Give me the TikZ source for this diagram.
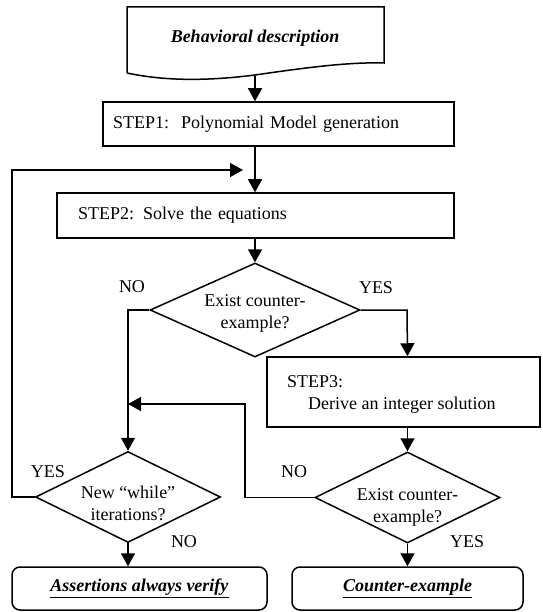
\documentclass[tikz,border=0pt]{standalone}
\usepackage{fontspec}
\setmainfont{Liberation Serif}
\usetikzlibrary{arrows.meta,shapes.geometric,calc}
\begin{document}
\begin{tikzpicture}[x=1pt,y=-1pt,
  every node/.style={font=\fontsize{18}{22}\selectfont},
  box/.style={draw,line width=1.5pt,rectangle,inner sep=0pt},
  dia/.style={draw,line width=1.5pt,diamond,inner sep=0pt},
  term/.style={draw,line width=1.5pt,rectangle,rounded corners=8pt,inner sep=0pt},
  conn/.style={line width=1.5pt},
  arr/.style={line width=1.5pt,-{Triangle[width=14pt,length=13pt]}},
  lbl/.style={inner sep=0pt}]
\useasboundingbox (0,0) rectangle (542,612);
% document shape
\draw[line width=1.5pt] (127,73) -- (127,7) -- (384,7) -- (384,63)
  .. controls (350,62) and (310,67) .. (255,75)
  .. controls (200,82) and (160,80) .. (127,73);
\node (doc) at (255,38) {\textbf{\textit{Behavioral description}}};
\coordinate (docb) at (255,76);
% step1
\node[box,minimum width=351pt,minimum height=44pt,text width=331pt,align=left,inner xsep=10pt] (s1) at (278.5,124) {STEP1:\ \ Polynomial Model generation};
% step2
\node[box,minimum width=397pt,minimum height=45pt,text width=355pt,align=left,inner xsep=21pt] (s2) at (255.5,215.5) {STEP2: Solve the equations};
% diamond 1
\node[dia,minimum width=210pt,minimum height=94pt] (d1) at (255,310) {};
\node[align=center,lbl] (d1t) at (255,313) {Exist counter-\\example?};
% step3
\node[box,minimum width=273pt,minimum height=70pt] (s3) at (403.5,392) {};
\node[anchor=west,lbl] (s3a) at (287,382) {STEP3:};
\node[anchor=west,lbl] (s3b) at (308,405) {Derive an integer solution};
% diamond 2
\node[dia,minimum width=185pt,minimum height=91pt] (d2) at (128,497) {};
\node[align=center,lbl] (d2t) at (128,503) {New “while”\\iterations?};
% diamond 3
\node[dia,minimum width=185pt,minimum height=91pt] (d3) at (407.5,497.5) {};
\node[align=center,lbl] (d3t) at (407.5,507) {Exist counter-\\example?};
% terminals
\node[term,minimum width=255pt,minimum height=43pt] (t1) at (139.5,588.5) {\underline{\textbf{\textit{Assertions always verify}}}};
\node[term,minimum width=231pt,minimum height=43pt] (t2) at (407.5,588.5) {\underline{\textbf{\textit{Counter-example}}}};
% labels
\node[lbl] (l1) at (132,287) {NO};
\node[lbl] (l2) at (376,288) {YES};
\node[lbl] (l3) at (48,472) {YES};
\node[lbl] (l4) at (184,542) {NO};
\node[lbl] (l5) at (294,472) {NO};
\node[lbl] (l6) at (467,542) {YES};
% junction coordinates
\coordinate (fb) at (243,170);
\coordinate (j2) at (128,404);
% connectors
\draw[arr] (docb) -- (s1.north -| docb);
\draw[arr] (s1.south -| docb) -- (s2.north -| docb);
\draw[arr] (d2.west) -- (12,497) -- (12,170) -- (fb);
\draw[arr] (s2.south -| d1.north) -- (d1.north);
\draw[arr] (d1.west) -- (128,310) -- (d2.north);
\draw[arr] (d1.east) -- (407,310) -- (s3.north -| d3.north);
\draw[arr] (s3.south -| d3.north) -- (d3.north);
\draw[arr] (d3.west) -- (245,497.5) -- (245,404) -- (j2);
\draw[arr] (d2.south) -- (t1.north -| d2.south);
\draw[arr] (d3.south) -- (t2.north -| d3.south);
\end{tikzpicture}
\end{document}
